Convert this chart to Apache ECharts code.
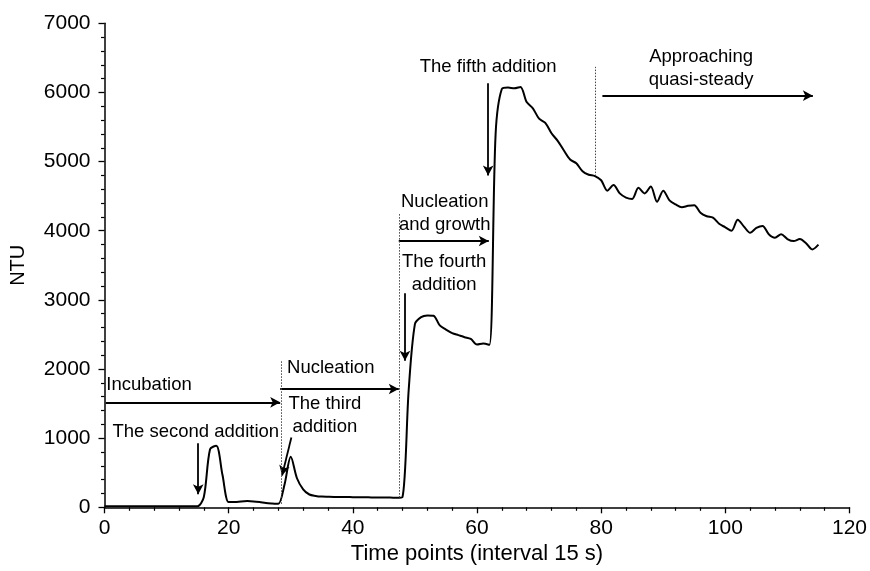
<!DOCTYPE html>
<html>
<head>
<meta charset="utf-8">
<script src="https://cdn.jsdelivr.net/npm/echarts@6/dist/echarts.min.js"></script>
<style>
  html,body{margin:0;padding:0;background:#fff;}
  #main{width:870px;height:571px;}
</style>
</head>
<body>
<div id="main"></div>
<script>
// NTU readings, one per time point (0..115)
var ntu = [
  15, 15, 15, 15, 15, 15, 15, 15, 15, 15, 15, 15, 15, 15, 15, 15,
  150, 840, 890, 470, 75, 75, 85, 90, 85, 75, 62, 55, 50,
  330, 730, 420, 260, 185, 165, 155, 152, 150, 150, 148, 147, 146, 145, 143, 142, 140, 140, 138,
  150, 1700, 2650, 2750, 2775, 2770, 2630, 2570, 2520, 2490, 2460, 2435, 2355, 2370, 2350,
  5400, 6050, 6070, 6060, 6080,
  5860, 5770, 5620, 5560, 5410, 5300, 5160, 5030, 4975, 4860, 4810, 4790,
  4730, 4580, 4660, 4540, 4480, 4460, 4620, 4540, 4640, 4420, 4580, 4440, 4380, 4340, 4360, 4370,
  4260, 4210, 4190, 4100, 4050, 4000, 4160, 4060, 3970, 4040, 4070, 3950, 3900, 3950, 3880, 3850,
  3880, 3820, 3730, 3800
];
var xTicks = [0, 20, 40, 60, 80, 100, 120];
var yTicks = [0, 1000, 2000, 3000, 4000, 5000, 6000, 7000];

// phase arrows and addition arrows, [from, to] in data units
var arrows = [
  [[0.2, 1518], [28.3, 1518]],
  [[28.3, 1711], [47.4, 1711]],
  [[47.4, 3852], [61.9, 3852]],
  [[80.2, 5953], [114.1, 5953]],
  [[15.1, 925], [15.1, 190]],
  [[30.1, 1010], [28.6, 460]],
  [[48.4, 3095], [48.4, 2120]],
  [[61.8, 6133], [61.8, 4800]]
];
// dotted phase boundaries
var bounds = [
  [[28.4, 50], [28.4, 2120]],
  [[47.4, 140], [47.4, 4250]],
  [[79.1, 4790], [79.1, 6370]]
];
// text labels (anchor in data units)
var notes = [
  {text: 'Incubation', at: [0.3, 1769], align: 'left'},
  {text: 'The second addition', at: [14.7, 1089], align: 'center'},
  {text: 'Nucleation', at: [29.4, 2022], align: 'left'},
  {text: 'The third\naddition', at: [35.5, 1328], align: 'center'},
  {text: 'Nucleation\nand growth', at: [54.8, 4249], align: 'center'},
  {text: 'The fourth\naddition', at: [54.7, 3384], align: 'center'},
  {text: 'The fifth addition', at: [61.8, 6373], align: 'center'},
  {text: 'Approaching\nquasi-steady', at: [96.1, 6347], align: 'center'}
];

var font = 'Liberation Sans, Arial, Helvetica, sans-serif';
var myChart = echarts.init(document.getElementById('main'));

var lineData = ntu.map(function(v, i){ return [i, v]; });

var markData = [];
arrows.forEach(function(a){
  markData.push([{coord: a[0], symbol: 'none'}, {coord: a[1], symbol: 'arrow'}]);
});
bounds.forEach(function(b){
  markData.push([
    {coord: b[0], symbol: 'none', lineStyle: {type: [1.5, 1.5], width: 1, color: '#444'}},
    {coord: b[1], symbol: 'none'}
  ]);
});

var option = {
  animation: false,
  grid: {left: 104.5, right: 20.3, top: 23.3, bottom: 63.7},
  xAxis: {
    type: 'value', min: xTicks[0], max: xTicks[xTicks.length - 1], interval: 20,
    name: 'Time points (interval 15 s)', nameLocation: 'middle', nameGap: 36,
    nameTextStyle: {fontFamily: font, fontSize: 22, color: '#000'},
    axisLine: {onZero: false, lineStyle: {color: '#000', width: 1.5}},
    axisTick: {show: true, inside: false, length: 6, lineStyle: {color: '#000', width: 1.3}},
    minorTick: {show: true, splitNumber: 5, length: 3.5, lineStyle: {color: '#000', width: 1.2}},
    splitLine: {show: false},
    axisLabel: {fontFamily: font, fontSize: 21, color: '#000', margin: 10}
  },
  yAxis: {
    type: 'value', min: yTicks[0], max: yTicks[yTicks.length - 1], interval: 1000,
    name: 'NTU', nameLocation: 'middle', nameGap: 76, nameRotate: 90,
    nameTextStyle: {fontFamily: font, fontSize: 20, color: '#000'},
    axisLine: {show: true, lineStyle: {color: '#000', width: 1.5}},
    axisTick: {show: true, inside: false, length: 6, lineStyle: {color: '#000', width: 1.3}},
    minorTick: {show: true, splitNumber: 5, length: 3.5, lineStyle: {color: '#000', width: 1.2}},
    splitLine: {show: false},
    axisLabel: {fontFamily: font, fontSize: 21, color: '#000', margin: 14,
      formatter: function(v){ return String(v); }}
  },
  series: [{
    type: 'line',
    data: lineData,
    showSymbol: false,
    smooth: 0.3,
    lineStyle: {color: '#000', width: 2},
    markLine: {
      silent: true,
      symbol: ['none', 'arrow'],
      symbolSize: [8, 10],
      label: {show: false},
      lineStyle: {type: 'solid', color: '#000', width: 1.8},
      emphasis: {disabled: true},
      data: markData
    }
  }]
};
myChart.setOption(option);

// put the text notes where the data units land
var g = notes.map(function(n){
  var p = myChart.convertToPixel({gridIndex: 0}, n.at);
  return {
    type: 'text', x: p[0], y: p[1], silent: true,
    style: {
      text: n.text, fill: '#000', font: '18.5px ' + font,
      align: n.align, verticalAlign: 'middle', lineHeight: 23
    }
  };
});
myChart.setOption({graphic: g});
</script>
</body>
</html>
